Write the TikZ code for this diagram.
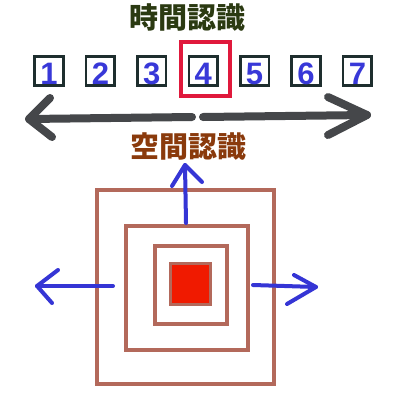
\documentclass[tikz,border=0pt]{standalone}
\usepackage{fontspec}
\setmainfont{Liberation Sans}
\newfontfamily\cjk{Noto Sans CJK JP}[BoldFont={Noto Sans CJK JP Black}]
\definecolor{titlegreen}{HTML}{2B3A12}
\definecolor{titlebrown}{HTML}{8A3A0C}
\definecolor{arrowgray}{HTML}{45474A}
\definecolor{hlred}{HTML}{E0193C}
\definecolor{sqbrown}{HTML}{B3695B}
\definecolor{corered}{HTML}{F01A00}
\definecolor{numblue}{HTML}{3838D8}
\definecolor{arrblue}{HTML}{3535D5}
\definecolor{boxdark}{HTML}{1E2E2E}
\tikzset{
  numbox/.style={draw=boxdark, line width=2.6pt, minimum size=28.5pt, inner sep=0.5pt,
    text height=28pt, text depth=0pt, font=\fontsize{31}{31}\selectfont\bfseries, text=numblue},
  hlbox/.style={draw=hlred, line width=3.8pt, minimum width=49pt, minimum height=54pt},
  sq/.style={draw=sqbrown, line width=4pt, inner sep=0pt},
  title/.style={font=\cjk\bfseries\fontsize{29}{29}\selectfont, inner sep=0pt},
  grayarrow/.style={draw=arrowgray, line width=8pt, line cap=round, line join=round},
  bluearrow/.style={draw=arrblue, line width=4pt, line cap=round, line join=round},
}
\begin{document}
\begin{tikzpicture}[x=1pt,y=-1pt]
\useasboundingbox[fill=white] (0,0) rectangle (400,400);
% titles
\node[title, text=titlegreen] (t1) at (187.5,17.5) {時間認識};
% highlight box
\node[hlbox] (hl) at (205.5,69) {};
% number boxes
\foreach \i in {1,...,7}{
  \node[numbox] (b\i) at ({49+51.4*(\i-1)},70.8) {\i};
}
% gray double arrow
\coordinate (gl0) at (192,117);
\coordinate (gl1) at (29,119);
\coordinate (glt) at (50,98);
\coordinate (glb) at (52,137);
\coordinate (gr0) at (203,117);
\coordinate (gr1) at (367,115);
\coordinate (grt) at (328,97);
\coordinate (grb) at (328,135);
\draw[grayarrow] (gl0) -- (gl1);
\draw[grayarrow] (glt) -- (gl1) -- (glb);
\draw[grayarrow] (gr0) -- (gr1);
\draw[grayarrow] (grt) -- (gr1) -- (grb);
\node[title, text=titlebrown] (t2) at (189,147) {空間認識};
% nested squares
\node[sq, minimum width=177pt, minimum height=194pt] (s1) at (185,287) {};
\node[sq, minimum width=122pt, minimum height=124pt] (s2) at (187,288) {};
\node[sq, minimum width=72pt, minimum height=78pt] (s3) at (191,285.4) {};
\node[sq, fill=corered, line width=3pt, minimum width=39.5pt, minimum height=41pt] (core) at (190.7,284) {};
% blue arrows
\coordinate (u0) at (186,223);
\coordinate (u1) at (185,165);
\coordinate (ul) at (172,186);
\coordinate (ur) at (202,182);
\draw[bluearrow] (u0) -- (u1);
\draw[bluearrow] (ul) -- (u1) -- (ur);
\coordinate (l0) at (113,286);
\coordinate (l1) at (37,286);
\coordinate (lt) at (58,270);
\coordinate (lb) at (52,303);
\draw[bluearrow] (l0) -- (l1);
\draw[bluearrow] (lt) -- (l1) -- (lb);
\coordinate (r0) at (253,285);
\coordinate (r1) at (316,287);
\coordinate (rt) at (294,275);
\coordinate (rb) at (287,304);
\draw[bluearrow] (r0) -- (r1);
\draw[bluearrow] (rt) -- (r1) -- (rb);
\end{tikzpicture}
\end{document}
